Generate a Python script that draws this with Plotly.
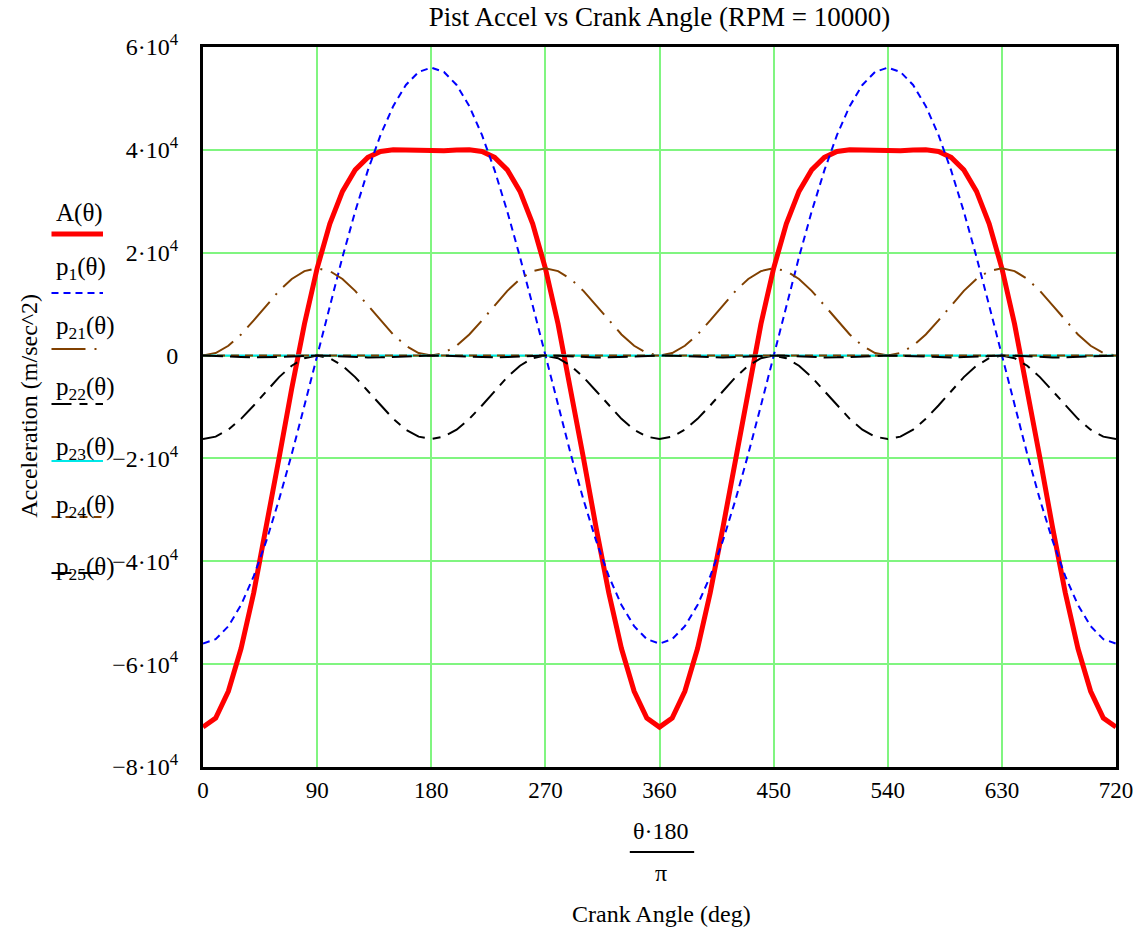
import plotly.graph_objects as go

# Crank angle samples (deg), two full revolutions
crank_deg = [0, 10, 20, 30, 40, 50, 60, 70, 80, 90, 100, 110, 120, 130, 140, 150, 160, 170, 180,
             190, 200, 210, 220, 230, 240, 250, 260, 270, 280, 290, 300, 310, 320, 330, 340, 350, 360,
             370, 380, 390, 400, 410, 420, 430, 440, 450, 460, 470, 480, 490, 500, 510, 520, 530, 540,
             550, 560, 570, 580, 590, 600, 610, 620, 630, 640, 650, 660, 670, 680, 690, 700, 710, 720]

# Total piston acceleration A(theta), m/s^2
accel_A = [-72240, -70470, -65270, -56970, -46120, -33460, -19890, -6380, 6150, 16970,
           25600, 31930, 36110, 38530, 39680, 40030, 39980, 39830, 39760,
           39830, 39980, 40030, 39680, 38530, 36110, 31930, 25600, 16970, 6150,
           -6380, -19890, -33460, -46120, -56970, -65270, -70470, -72240,
           -70470, -65270, -56970, -46120, -33460, -19890, -6380, 6150, 16970,
           25600, 31930, 36110, 38530, 39680, 40030, 39980, 39830, 39760,
           39830, 39980, 40030, 39680, 38530, 36110, 31930, 25600, 16970, 6150,
           -6380, -19890, -33460, -46120, -56970, -65270, -70470, -72240]

# Primary (first-order) term p1(theta)
accel_p1 = [-56000, -55150, -52620, -48500, -42900, -36000, -28000, -19150, -9720, 0,
            9720, 19150, 28000, 36000, 42900, 48500, 52620, 55150, 56000,
            55150, 52620, 48500, 42900, 36000, 28000, 19150, 9720, 0,
            -9720, -19150, -28000, -36000, -42900, -48500, -52620, -55150, -56000,
            -55150, -52620, -48500, -42900, -36000, -28000, -19150, -9720, 0,
            9720, 19150, 28000, 36000, 42900, 48500, 52620, 55150, 56000,
            55150, 52620, 48500, 42900, 36000, 28000, 19150, 9720, 0,
            -9720, -19150, -28000, -36000, -42900, -48500, -52620, -55150, -56000]

# Secondary terms
accel_p21 = [0, 490, 1910, 4100, 6830, 9770, 12580, 14900, 16430, 16970,
             16430, 14900, 12580, 9770, 6830, 4100, 1910, 490, 0,
             490, 1910, 4100, 6830, 9770, 12580, 14900, 16430, 16970,
             16430, 14900, 12580, 9770, 6830, 4100, 1910, 490, 0,
             490, 1910, 4100, 6830, 9770, 12580, 14900, 16430, 16970,
             16430, 14900, 12580, 9770, 6830, 4100, 1910, 490, 0,
             490, 1910, 4100, 6830, 9770, 12580, 14900, 16430, 16970,
             16430, 14900, 12580, 9770, 6830, 4100, 1910, 490, 0]

accel_p22 = [-16240, -15770, -14410, -12310, -9700, -6880, -4190, -1970, -510, 0,
             -510, -1970, -4190, -6880, -9700, -12310, -14410, -15770, -16240,
             -15770, -14410, -12310, -9700, -6880, -4190, -1970, -510, 0,
             -510, -1970, -4190, -6880, -9700, -12310, -14410, -15770, -16240,
             -15770, -14410, -12310, -9700, -6880, -4190, -1970, -510, 0,
             -510, -1970, -4190, -6880, -9700, -12310, -14410, -15770, -16240,
             -15770, -14410, -12310, -9700, -6880, -4190, -1970, -510, 0,
             -510, -1970, -4190, -6880, -9700, -12310, -14410, -15770, -16240]

accel_p23 = [0, 0, 0, 0, 0, 0, 0, 0, 0, 0, 0, 0, 0, 0, 0, 0, 0, 0, 0,
             0, 0, 0, 0, 0, 0, 0, 0, 0, 0, 0, 0, 0, 0, 0, 0, 0, 0,
             0, 0, 0, 0, 0, 0, 0, 0, 0, 0, 0, 0, 0, 0, 0, 0, 0, 0,
             0, 0, 0, 0, 0, 0, 0, 0, 0, 0, 0, 0, 0, 0, 0, 0, 0, 0]

accel_p24 = [0, 0, 0, 0, 0, 0, 0, 0, 0, 0, 0, 0, 0, 0, 0, 0, 0, 0, 0,
             0, 0, 0, 0, 0, 0, 0, 0, 0, 0, 0, 0, 0, 0, 0, 0, 0, 0,
             0, 0, 0, 0, 0, 0, 0, 0, 0, 0, 0, 0, 0, 0, 0, 0, 0, 0,
             0, 0, 0, 0, 0, 0, 0, 0, 0, 0, 0, 0, 0, 0, 0, 0, 0, 0]

accel_p25 = [0, -40, -140, -260, -350, -360, -280, -160, -45, 0,
             -45, -160, -280, -360, -350, -260, -140, -40, 0,
             -40, -140, -260, -350, -360, -280, -160, -45, 0,
             -45, -160, -280, -360, -350, -260, -140, -40, 0,
             -40, -140, -260, -350, -360, -280, -160, -45, 0,
             -45, -160, -280, -360, -350, -260, -140, -40, 0,
             -40, -140, -260, -350, -360, -280, -160, -45, 0,
             -45, -160, -280, -360, -350, -260, -140, -40, 0]

x_ticks = [0, 90, 180, 270, 360, 450, 540, 630, 720]
y_ticks = [60000, 40000, 20000, 0, -20000, -40000, -60000, -80000]
y_tick_text = ["6·10<sup>4</sup>", "4·10<sup>4</sup>", "2·10<sup>4</sup>", "0",
               "−2·10<sup>4</sup>", "−4·10<sup>4</sup>", "−6·10<sup>4</sup>", "−8·10<sup>4</sup>"]

legend_names = ["A(θ)", "p<sub>1</sub>(θ)", "p<sub>21</sub>(θ)", "p<sub>22</sub>(θ)",
                "p<sub>23</sub>(θ)", "p<sub>24</sub>(θ)", "p<sub>25</sub>(θ)"]

BROWN = "#804000"
styles = [
    dict(color="#ff0000", width=5, dash="solid"),
    dict(color="#0000ff", width=2, dash="7px,5px"),
    dict(color=BROWN, width=2, dash="34px,9px,2px,9px"),
    dict(color="#000000", width=2, dash="20px,8px,8px,8px"),
    dict(color="#00e8e8", width=2, dash="solid"),
    dict(color=BROWN, width=2, dash="8px,6px"),
    dict(color="#000000", width=2, dash="20px,7px"),
]
series = [accel_A, accel_p1, accel_p21, accel_p22, accel_p23, accel_p24, accel_p25]

FONT = "Liberation Serif"
W, H = 1145, 931
L, R, T, B = 203, 20, 47, 164
PW, PH = W - L - R, H - T - B


def px(xp):
    return (xp - L) / PW


def py(yp):
    return (H - B - yp) / PH


fig = go.Figure()
for name, vals, st in zip(legend_names, series, styles):
    fig.add_trace(go.Scatter(x=crank_deg, y=vals, mode="lines", name=name,
                             line=st, hoverinfo="skip"))

grid = "#80f580"
fig.update_xaxes(range=[0, 720], tickvals=x_ticks, ticktext=[str(v) for v in x_ticks],
                 showgrid=True, gridcolor=grid, gridwidth=2, zeroline=False,
                 showline=True, linecolor="black", linewidth=3, mirror=True,
                 ticks="", ticklabelstandoff=0, tickfont=dict(size=23))
fig.update_yaxes(range=[-80000, 60000], tickvals=y_ticks, ticktext=y_tick_text,
                 showgrid=True, gridcolor=grid, gridwidth=2, zeroline=False,
                 showline=True, linecolor="black", linewidth=3, mirror=True,
                 ticks="", ticklabelstandoff=17, tickfont=dict(size=24))

annotations = []
shapes = []

# Legend block at left: label above its line sample
label_y = [213, 268, 328, 388, 448, 507, 568]
line_y = [234, 293, 349, 404, 461, 517, 573]
for name, st, ly, sy in zip(legend_names, styles, label_y, line_y):
    annotations.append(dict(text=name, x=px(53), y=py(ly), xref="paper", yref="paper",
                            xanchor="left", yanchor="middle", showarrow=False,
                            font=dict(family=FONT, size=25, color="black")))
    shapes.append(dict(type="line", xref="paper", yref="paper",
                       x0=px(50), x1=px(102), y0=py(sy), y1=py(sy),
                       line=dict(color=st["color"], width=st["width"], dash=st["dash"])))

# Y axis title
annotations.append(dict(text="Acceleration (m/sec^2)", x=px(27), y=py(406),
                        xref="paper", yref="paper", textangle=-90, showarrow=False,
                        xanchor="center", yanchor="middle",
                        font=dict(family=FONT, size=24, color="black")))

# X axis expression (theta*180/pi) and title
cx = px(666)
annotations.append(dict(text="θ·180", x=cx, y=py(831), xref="paper", yref="paper",
                        showarrow=False, xanchor="center", yanchor="middle",
                        font=dict(family=FONT, size=24, color="black")))
annotations.append(dict(text="π", x=cx, y=py(873), xref="paper", yref="paper",
                        showarrow=False, xanchor="center", yanchor="middle",
                        font=dict(family=FONT, size=24, color="black")))
annotations.append(dict(text="Crank Angle (deg)", x=cx, y=py(914), xref="paper", yref="paper",
                        showarrow=False, xanchor="center", yanchor="middle",
                        font=dict(family=FONT, size=24, color="black")))
shapes.append(dict(type="line", xref="paper", yref="paper",
                   x0=px(634), x1=px(699), y0=py(852), y1=py(852),
                   line=dict(color="black", width=2)))

fig.update_layout(
    width=W, height=H,
    margin=dict(l=L, r=R, t=T, b=B),
    paper_bgcolor="white", plot_bgcolor="white",
    showlegend=False,
    font=dict(family=FONT, size=23, color="black"),
    title=dict(text="Pist Accel vs Crank Angle (RPM = 10000)", x=0.5, xref="paper",
               xanchor="center", y=1 - 17 / H, yref="container", yanchor="middle",
               font=dict(family=FONT, size=27, color="black")),
    annotations=annotations,
    shapes=shapes,
)

fig.write_html("out.html")
